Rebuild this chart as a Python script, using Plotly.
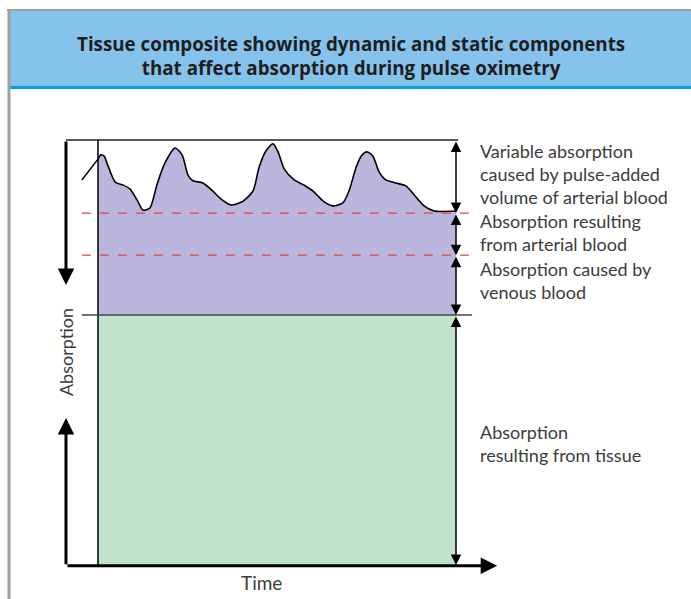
import plotly.graph_objects as go

# 数据：时间 0-100，吸收量 0-100（相对单位）
wave_t = [-4.5, 0.0, 0.8, 1.7, 2.8, 4.8, 7.0, 8.9, 10.9, 12.6, 14.5, 16.5, 18.7, 21.5,
          23.5, 25.1, 26.5, 29.3, 31.8, 34.4, 37.2, 40.5, 43.3, 45.0, 46.9, 48.9, 50.3,
          52.0, 54.8, 57.5, 60.3, 62.9, 65.6, 68.4, 70.1, 72.1, 73.5, 75.1, 76.8, 78.5,
          80.4, 83.2, 86.0, 88.3, 91.1, 93.9, 100.0]
wave_a = [90.6, 95.5, 96.5, 96.2, 93.9, 90.1, 89.4, 88.5, 85.9, 83.5, 84.0, 89.6, 94.6, 98.1,
          96.5, 91.8, 90.4, 89.9, 88.2, 86.1, 84.7, 85.6, 88.0, 93.6, 97.4, 99.1, 97.2,
          93.2, 90.6, 89.4, 87.8, 85.6, 84.5, 85.2, 88.0, 93.6, 96.2, 97.2, 96.2, 92.5,
          90.6, 89.9, 89.2, 87.1, 84.5, 83.3, 83.3]

tissue_top = 58.8    # 组织吸收上限
venous_top = 72.9    # 静脉血
arterial_top = 82.8  # 动脉血（静态部分）
chart_top = 100.0
t_end = 100.0

labels = [
    ["Variable absorption", "caused by pulse-added", "volume of arterial blood"],
    ["Absorption resulting", "from arterial blood"],
    ["Absorption caused by", "venous blood"],
    ["Absorption", "resulting from tissue"],
]
label_first_line = [97.4, 80.9, 69.6, 31.3]

title_text = ("Tissue composite showing dynamic and static components<br>"
              "that affect absorption during pulse oximetry")

# 像素与数据单位的换算（画布 691x599，边距为 0）
PX_X = 3.58
PX_Y = 4.25
axis_t = -8.94
line_step = 23 / PX_Y

purple = "#BBB6DD"
green = "#C0E3CB"
red_dash = "#E5453A"
text_col = "#3C3C3C"
font_txt = "Lato"

fig = go.Figure()

# 静脉 + 动脉 基线（用于填充）
fig.add_trace(go.Scatter(x=[0, t_end], y=[tissue_top, tissue_top], mode="lines",
                         line=dict(width=0), hoverinfo="skip", showlegend=False))
fig.add_trace(go.Scatter(x=wave_t[1:], y=wave_a[1:], mode="lines", fill="tonexty",
                         fillcolor=purple, line=dict(color="black", width=1.6, shape="spline",
                                                     smoothing=0.7),
                         hoverinfo="skip", showlegend=False))
fig.add_trace(go.Scatter(x=wave_t[:2], y=wave_a[:2], mode="lines",
                         line=dict(color="black", width=1.5), hoverinfo="skip", showlegend=False))

shapes = [
    # 组织部分
    dict(type="rect", x0=0, x1=t_end, y0=0, y1=tissue_top, fillcolor=green, line_width=0,
         layer="below"),
    # 顶线、内部竖线
    dict(type="line", x0=axis_t, x1=t_end + 0.6, y0=chart_top, y1=chart_top,
         line=dict(color="#222", width=1.5)),
    dict(type="line", x0=0, x1=0, y0=0, y1=chart_top, line=dict(color="black", width=1.5)),
    # 虚线
    dict(type="line", x0=-4.5, x1=103.9, y0=arterial_top, y1=arterial_top,
         line=dict(color=red_dash, width=1.2, dash="dash")),
    dict(type="line", x0=-4.5, x1=103.9, y0=venous_top, y1=venous_top,
         line=dict(color=red_dash, width=1.2, dash="dash")),
    dict(type="line", x0=-4.5, x1=104.5, y0=tissue_top, y1=tissue_top,
         line=dict(color="#444", width=1.5)),
    # 标题框
    dict(type="rect", xref="paper", yref="paper", x0=10 / 691, x1=1.0, y0=1 - 86 / 599,
         y1=1 - 11 / 599, fillcolor="#86C3EC", line_width=0),
    dict(type="rect", xref="paper", yref="paper", x0=10 / 691, x1=1.0, y0=1 - 89 / 599,
         y1=1 - 86 / 599, fillcolor="#00A3E0", line_width=0),
    dict(type="line", xref="paper", yref="paper", x0=7 / 691, x1=1.0, y0=1 - 10 / 599,
         y1=1 - 10 / 599, line=dict(color="#A0A0A0", width=2)),
    dict(type="line", xref="paper", yref="paper", x0=9 / 691, x1=9 / 691, y0=0,
         y1=1 - 10 / 599, line=dict(color="#A0A0A0", width=3)),
]

annotations = []


def arrow(x0, y0, x1, y1, width, size, both=False, head=2):
    annotations.append(dict(x=x1, y=y1, ax=x0, ay=y0, xref="x", yref="y", axref="x",
                            ayref="y", text="", showarrow=True, arrowhead=head,
                            startarrowhead=head, arrowsize=size, startarrowsize=size,
                            arrowwidth=width, arrowcolor="black",
                            arrowside="end+start" if both else "end"))


# 坐标轴箭头
arrow(axis_t, chart_top, axis_t, 65.9, 3, 1.1)
arrow(axis_t, -0.2, axis_t, 34.6, 3, 1.1)
arrow(axis_t, -0.2, 111.5, -0.2, 3, 1.1)

# 右侧双向箭头
levels = [chart_top, arterial_top, venous_top, tissue_top, 0]
for top, bottom in zip(levels[:-1], levels[1:]):
    arrow(t_end, top, t_end, bottom, 1.5, 1.4, both=True)

# 右侧文字
for group, first in zip(labels, label_first_line):
    for i, line in enumerate(group):
        annotations.append(dict(x=106.1, y=first - i * line_step, xref="x", yref="y",
                                text=line, showarrow=False, xanchor="left", yanchor="middle",
                                font=dict(family=font_txt, size=18, color=text_col)))

annotations += [
    dict(x=axis_t, y=50.1, xref="x", yref="y", text="Absorption", textangle=-90,
         showarrow=False, bgcolor="white", xanchor="center", yanchor="middle",
         font=dict(family=font_txt, size=18, color=text_col)),
    dict(x=(261 - 98) / PX_X, y=(565 - 582) / PX_Y, xref="x", yref="y", text="Time",
         showarrow=False, xanchor="center", yanchor="middle",
         font=dict(family=font_txt, size=19, color=text_col)),
    dict(x=351 / 691, y=1 - 56 / 599, xref="paper", yref="paper",
         text="<b>" + title_text + "</b>", xanchor="center", yanchor="middle",
         showarrow=False, font=dict(family="Open Sans", size=18.8, color="#1E1E1E")),
]

fig.update_layout(
    width=691, height=599, autosize=False,
    margin=dict(l=0, r=0, t=0, b=0, pad=0),
    paper_bgcolor="white", plot_bgcolor="white",
    xaxis=dict(range=[-98 / PX_X, 593 / PX_X], visible=False, fixedrange=True),
    yaxis=dict(range=[-34 / PX_Y, 565 / PX_Y], visible=False, fixedrange=True),
    shapes=shapes, annotations=annotations, showlegend=False,
)

fig.write_html("out.html", config={"displayModeBar": False},
               post_script="document.body.style.margin='0';")
